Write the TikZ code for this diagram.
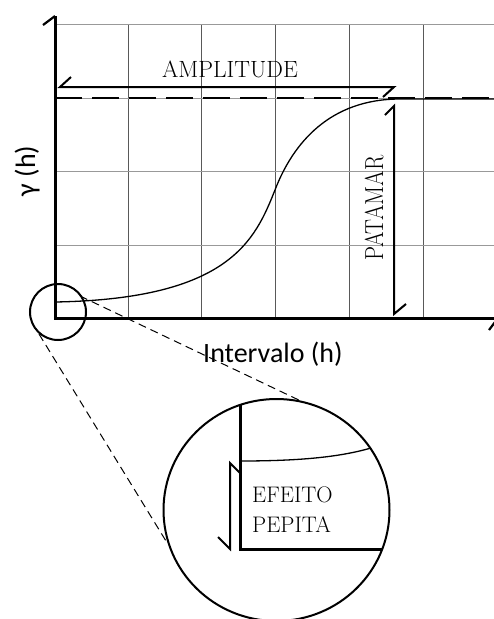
\documentclass[tikz,border=0pt]{standalone}
\usepackage{fontspec}
\usetikzlibrary{shapes.geometric}
\newfontfamily\calib{Carlito}
\begin{document}
\begin{tikzpicture}[x=1pt,y=-1pt,
  gridv/.style={draw=black!65,line width=0.9pt},
  gridh/.style={draw=black!40,line width=0.9pt},
  axisline/.style={line width=3pt},
  hookline/.style={line width=2.2pt},
  dimline/.style={line width=2pt},
  curveline/.style={line width=1.3pt},
  sill/.style={line width=2.5pt,dash pattern=on 27pt off 10pt},
  leader/.style={line width=1pt,dash pattern=on 8pt off 5pt},
  lbl/.style={inner sep=0pt,font=\fontsize{23.5}{26}\selectfont},
  lblsmall/.style={inner sep=0pt,font=\fontsize{22.5}{25}\selectfont},
  slbl/.style={inner sep=0pt,font=\calib\fontsize{28}{30}\selectfont},
]
\fill[white] (0,0) rectangle (494,619);
\useasboundingbox (0,0) rectangle (494,619);

% key points
\coordinate (O) at (55,318);
\coordinate (ytip) at (55,16);
\coordinate (xtip) at (498,318);
\coordinate (c0) at (55,302);
\coordinate (infl) at (275,190);
\coordinate (sillpt) at (400,99);
\coordinate (rend) at (494,99);

% grid
\foreach \x in {128,201,275,349,423} \draw[gridv] (\x,24) -- (\x,318);
\foreach \y in {24,98,171,245} \draw[gridh] (55,\y) -- (494,\y);

% sill dashed line
\draw[sill] (55,98) -- (494,98);

% variogram curve
\draw[curveline] (c0) .. controls (230,299) and (255,240) .. (infl)
  .. controls (293,143) and (330,99) .. (sillpt) -- (rend);

% axes
\draw[axisline] (ytip) -- (O) -- (xtip);
\draw[hookline] (43,25) -- (ytip);
\draw[hookline] (xtip) -- (489,330);

% amplitude arrow
\coordinate (a1) at (60,87);
\coordinate (a2) at (394,87);
\draw[dimline] (71,77) -- (a1) -- (a2) -- (383,97);
\node[lbl,anchor=base] (amp) at (230,77) {AMPLITUDE};

% patamar arrow
\coordinate (p1) at (394,106);
\coordinate (p2) at (394,314);
\draw[dimline] (385,115) -- (p1) -- (p2) -- (406,304);
\node[inner sep=0pt,rotate=90,anchor=base] (pat) at (383,208)
  {\scalebox{0.86}[1]{\fontsize{26}{26}\selectfont PATAMAR}};

% axis labels
\node[slbl,rotate=90,anchor=base] (ylab) at (35,171) {γ (h)};
\node[slbl,anchor=base west] (xlab) at (203,362) {Intervalo (h)};

% zoom circles
\node[circle,draw,line width=2pt,minimum size=56pt,inner sep=0pt] (small) at (58,312) {};
\node[ellipse,draw,line width=2pt,minimum width=226pt,minimum height=222pt,inner sep=0pt] (big) at (276.5,510) {};
\draw[leader] (80,296) -- (303,402);
\draw[leader] (39,334) -- (166,541);

% inside zoom
\draw[axisline] (240,405) -- (240,549) -- (382,549);
\draw[curveline] (240,461) .. controls (300,461) and (340,457) .. (371,448);
\coordinate (n1) at (230,463);
\coordinate (n2) at (230,549);
\draw[dimline] (240,473) -- (n1) -- (n2) -- (218,537);
\node[lblsmall,anchor=base west] (ef) at (252,502) {EFEITO};
\node[lblsmall,anchor=base west] (pp) at (252,532) {PEPITA};
\end{tikzpicture}
\end{document}
